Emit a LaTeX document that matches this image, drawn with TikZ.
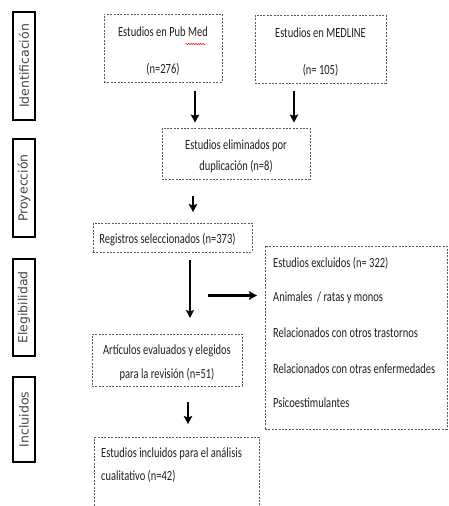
\documentclass[tikz,border=0pt]{standalone}
\usepackage{fontspec}
\setmainfont{Carlito}
\newfontfamily\boxfont[FakeStretch=0.75]{Carlito}
\newfontfamily\sidefont{DejaVu Sans}
\usetikzlibrary{arrows.meta,decorations.pathmorphing}
\newcommand\tup{\rule{0pt}{15pt}}
\begin{document}
\begin{tikzpicture}[x=1pt,y=-1pt,
  sidebox/.style={draw=black, line width=2.3pt, rotate=90, minimum height=22pt,
    inner sep=0pt, text=black!72, font=\sidefont\fontsize{12.5pt}{15pt}\selectfont},
  dbox/.style={draw=black!65, line width=0.8pt, dash pattern=on 2pt off 1.4pt,
    inner sep=0pt, text=black!88, font=\boxfont\fontsize{14pt}{17pt}\selectfont},
  txt/.style={inner sep=0pt, text=black!88, font=\boxfont\fontsize{14pt}{17pt}\selectfont},
  arr/.style={line width=2pt, -{Stealth[length=8pt,width=8.5pt,inset=1.5pt]}},
  thinarr/.style={line width=1.6pt, -{Stealth[length=8pt,width=8pt,inset=1.5pt]}}
]
\useasboundingbox (0,0) rectangle (448,506);
\clip (0,0) rectangle (448,506);

% side labels
\node[sidebox, minimum width=108pt] (sid) at (24,66) {Identificación};
\node[sidebox, minimum width=98pt] (sproy) at (24,188) {Proyección};
\node[sidebox, minimum width=97pt] (seleg) at (24,307.5) {Elegibilidad};
\node[sidebox, minimum width=85pt] (sincl) at (24,419.5) {Incluidos};

% boxes
\node[dbox, minimum width=118pt, minimum height=68pt, align=center] (pub) at (163,48)
  {\tup Estudios en Pub Med\\[20pt](n=276)};
\node[dbox, minimum width=131pt, minimum height=68pt, align=center] (med) at (320.5,49)
  {\tup Estudios en MEDLINE\\[20pt](n= 105)};
\node[dbox, minimum width=148pt, minimum height=51pt, align=center] (dup) at (236,153.5)
  {\tup Estudios eliminados por\\[4pt]duplicación (n=8)};
\node[dbox, minimum width=159pt, minimum height=29pt] (reg) at (172.5,237.5)
  {\tup Registros seleccionados (n=373)\hspace*{10pt}};
\node[dbox, minimum width=182pt, minimum height=183pt] (exc) at (356,337.5) {};
\node[txt, anchor=base west] (exc1) at (273,267.5) {Estudios excluidos (n= 322)};
\node[txt, anchor=base west] (exc2) at (273,301.5) {Animales\ \ / ratas y monos};
\node[txt, anchor=base west] (exc3) at (273,337.5) {Relacionados con otros trastornos};
\node[txt, anchor=base west] (exc4) at (273,373.5) {Relacionados con otras enfermedades};
\node[txt, anchor=base west] (exc5) at (273,407.5) {Psicoestimulantes};
\node[dbox, minimum width=150pt, minimum height=52pt, align=center] (art) at (167,360)
  {\tup Artículos evaluados y elegidos\\[7pt]para la revisión (n=51)};
\node[dbox, minimum width=165pt, minimum height=90pt, anchor=north west] (inc) at (94,437) {};
\node[txt, anchor=base west] (inc1) at (101,457.5) {Estudios incluidos para el análisis};
\node[txt, anchor=base west] (inc2) at (101,480.5) {cualitativo (n=42)};

% spell-check squiggle
\draw[red, line width=0.5pt, decorate, decoration={snake, amplitude=0.6pt, segment length=2.4pt}]
  (185.5,44) -- (205,44);

% arrows
\coordinate (a1s) at (195,91);  \coordinate (a1e) at (195,122.5);
\coordinate (a2s) at (294,91);  \coordinate (a2e) at (294,122.5);
\coordinate (a3s) at (193,196); \coordinate (a3e) at (193,212);
\coordinate (a4s) at (190,260); \coordinate (a4e) at (190,318);
\coordinate (a5s) at (208,295.5); \coordinate (a5e) at (257,295.5);
\coordinate (a6s) at (188,402); \coordinate (a6e) at (188,424);
\draw[arr] (a1s) -- (a1e);
\draw[arr] (a2s) -- (a2e);
\draw[arr] (a3s) -- (a3e);
\draw[thinarr] (a4s) -- (a4e);
\draw[arr, line width=2.6pt] (a5s) -- (a5e);
\draw[arr] (a6s) -- (a6e);
\end{tikzpicture}
\end{document}
